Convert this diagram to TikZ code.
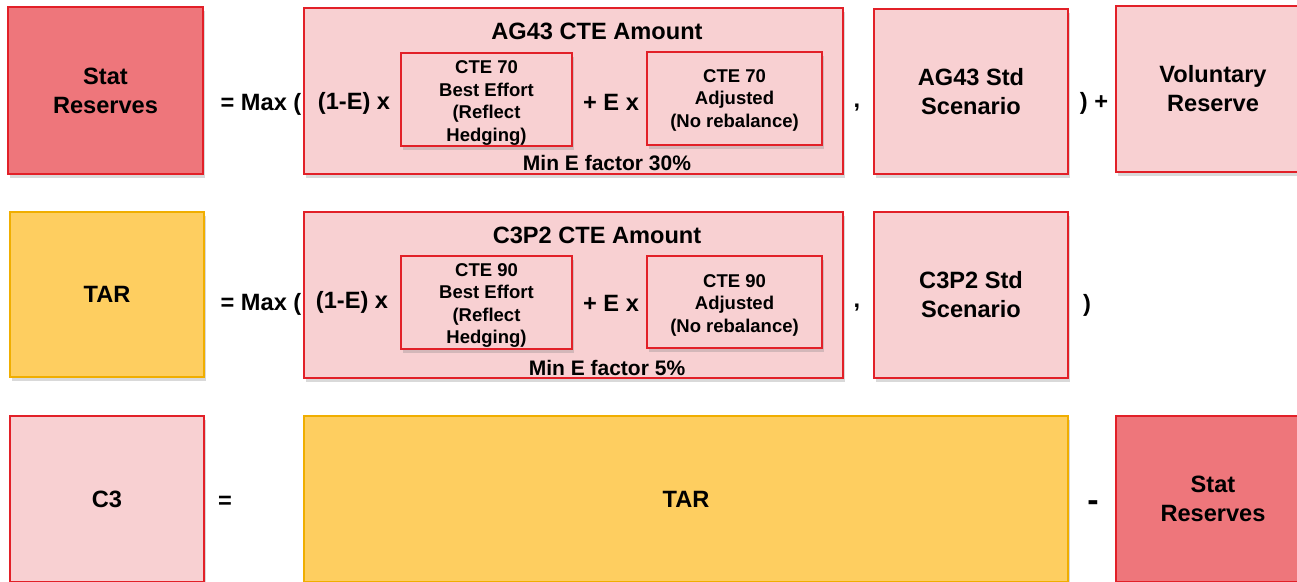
\documentclass[tikz,border=0pt]{standalone}
\usepackage{fontspec}
\setmainfont{Liberation Sans}
\usetikzlibrary{shadows}
\definecolor{salmon}{RGB}{238,118,123}
\definecolor{palepink}{RGB}{248,208,210}
\definecolor{redline}{RGB}{226,32,40}
\definecolor{gold}{RGB}{254,206,96}
\definecolor{goldline}{RGB}{240,174,0}
\tikzset{
  boxbase/.style={rectangle, draw, line width=1.8pt, inner sep=0pt, align=center,
     drop shadow={opacity=0.3, shadow xshift=1.5pt, shadow yshift=-3.5pt}},
  redbox/.style={boxbase, draw=redline, fill=salmon},
  pinkbox/.style={boxbase, draw=redline, fill=palepink},
  goldbox/.style={boxbase, draw=goldline, fill=gold},
  bigtxt/.style={font=\fontsize{23.6}{29}\selectfont\bfseries},
  smalltxt/.style={inner sep=0pt, align=center, font=\fontsize{18.5}{22.5}\selectfont\bfseries},
  midtxt/.style={font=\fontsize{21}{25}\selectfont\bfseries},
  optxt/.style={inner sep=0pt, font=\fontsize{23.6}{29}\selectfont\bfseries},
}
\begin{document}
\begin{tikzpicture}[x=1pt, y=-1pt]
\useasboundingbox (0,0) rectangle (1297,581);
\clip (0,0) rectangle (1297,581);
% Row 1
\node[redbox, bigtxt, minimum width=195, minimum height=167] (sr1) at (105.5,90.5) {Stat\\Reserves};
\node[optxt] (eq1) at (261,104) {= Max (};
\node[pinkbox, minimum width=539, minimum height=166] (ag) at (573.5,91) {};
\node[bigtxt, inner sep=0pt] (agt) at (597,31) {AG43 CTE Amount};
\node[optxt] (ome1) at (354,103) {(1-E) x};
\node[pinkbox, minimum width=171, minimum height=93] (ia1) at (486.5,99.5) {};
\node[smalltxt] (ia1t) at (486.5,103) {CTE 70\\Best Effort\\(Reflect\\Hedging)};
\node[optxt] (pe1) at (611,102) {+ E x};
\node[pinkbox, minimum width=175, minimum height=93] (ib1) at (734.5,98.5) {};
\node[smalltxt] (ib1t) at (734.5,100) {CTE 70\\Adjusted\\(No rebalance)};
\node[midtxt, inner sep=0pt] (me1) at (607,163) {Min E factor 30\%};
\node[optxt] (cm1) at (857,108) {,};
\node[pinkbox, bigtxt, minimum width=194, minimum height=165] (ags) at (971,91.5) {AG43 Std\\Scenario};
\node[optxt] (cp1) at (1094,103) {) +};
\node[pinkbox, bigtxt, minimum width=194, minimum height=166] (vr) at (1213,89) {Voluntary\\Reserve};
% Row 2
\node[goldbox, bigtxt, minimum width=194, minimum height=165] (tar2) at (107,294.5) {TAR};
\node[optxt] (eq2) at (261,304) {= Max (};
\node[pinkbox, minimum width=539, minimum height=166] (cp) at (573.5,295) {};
\node[bigtxt, inner sep=0pt] (cpt) at (597,235) {C3P2 CTE Amount};
\node[optxt] (ome2) at (352,302) {(1-E) x};
\node[pinkbox, minimum width=171, minimum height=93] (ia2) at (486.5,302.5) {};
\node[smalltxt] (ia2t) at (486.5,305.5) {CTE 90\\Best Effort\\(Reflect\\Hedging)};
\node[optxt] (pe2) at (611,303) {+ E x};
\node[pinkbox, minimum width=175, minimum height=92] (ib2) at (734.5,302) {};
\node[smalltxt] (ib2t) at (734.5,305) {CTE 90\\Adjusted\\(No rebalance)};
\node[midtxt, inner sep=0pt] (me2) at (607,368) {Min E factor 5\%};
\node[optxt] (cm2) at (857,308) {,};
\node[pinkbox, bigtxt, minimum width=194, minimum height=166] (cps) at (971,295) {C3P2 Std\\Scenario};
\node[optxt] (cp2) at (1087,305) {)};
% Row 3
\node[pinkbox, bigtxt, minimum width=194, minimum height=166] (c3) at (107,499) {C3};
\node[optxt] (eq3) at (225,502) {=};
\node[goldbox, bigtxt, minimum width=764, minimum height=166] (tar3) at (686,499) {TAR};
\node[inner sep=0pt, font=\fontsize{34}{34}\selectfont\bfseries] (mn3) at (1093,506) {-};
\node[redbox, bigtxt, minimum width=194, minimum height=166] (sr3) at (1213,499) {Stat\\Reserves};
\end{tikzpicture}
\end{document}
